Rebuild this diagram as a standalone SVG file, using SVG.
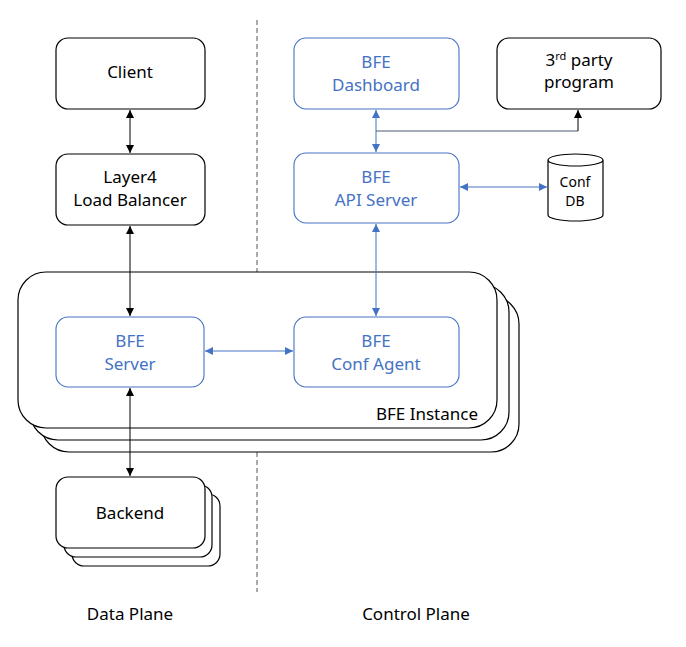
<svg xmlns="http://www.w3.org/2000/svg" width="686" height="647" viewBox="0 0 686 647">
<style>
text{font-family:"Noto Sans","Liberation Sans",sans-serif;font-size:17px;text-anchor:middle}
.bk{fill:#fff;stroke:#000;stroke-width:1.2}
.bl{fill:#fff;stroke:#4472c4;stroke-width:1.1}
.bt{fill:#4472c4}
.kt{fill:#000}
.cb{stroke:#000;stroke-width:1;fill:none}
.cl{stroke:#4472c4;stroke-width:1;fill:none}
</style>
<defs>
<marker id="ak" viewBox="0 0 10 10" refX="10" refY="5" markerWidth="8" markerHeight="8" markerUnits="userSpaceOnUse" orient="auto-start-reverse"><path d="M0,0L10,5L0,10z" fill="#000"/></marker>
<marker id="ab" viewBox="0 0 10 10" refX="10" refY="5" markerWidth="8" markerHeight="8" markerUnits="userSpaceOnUse" orient="auto-start-reverse"><path d="M0,0L10,5L0,10z" fill="#4472c4"/></marker>
</defs>
<rect width="686" height="647" fill="#fff"/>
<line x1="257" y1="20" x2="257" y2="592" stroke="#555" stroke-width="1" stroke-dasharray="5,3"/>
<g id="bfe-instance">
<rect class="bk" x="41" y="296" width="478" height="156" rx="28"/>
<rect class="bk" x="30" y="284" width="479" height="156" rx="28"/>
<rect class="bk" x="18" y="272" width="479" height="156" rx="28"/>
<text x="478" y="420" style="text-anchor:end" class="kt">BFE Instance</text>
</g>
<g id="client"><rect class="bk" x="56" y="38" width="149" height="71" rx="12"/><text x="130" y="78" class="kt">Client</text></g>
<g id="layer4"><rect class="bk" x="56" y="154" width="149" height="71" rx="12"/><text x="130" y="183" class="kt">Layer4</text><text x="130" y="206" class="kt">Load Balancer</text></g>
<g id="bfe-server"><rect class="bl" x="56" y="317" width="148" height="70" rx="12"/><text x="130" y="347" class="bt">BFE</text><text x="130" y="370" class="bt">Server</text></g>
<g id="conf-agent"><rect class="bl" x="294" y="317" width="165" height="70" rx="12"/><text x="376" y="347" class="bt">BFE</text><text x="376" y="370" class="bt">Conf Agent</text></g>
<g id="dashboard"><rect class="bl" x="294" y="38" width="165" height="71" rx="12"/><text x="376" y="68" class="bt">BFE</text><text x="376" y="91" class="bt">Dashboard</text></g>
<g id="third-party"><rect class="bk" x="497" y="38" width="164" height="71" rx="12"/><text x="579" y="66" class="kt">3<tspan font-size="11" dy="-6">rd</tspan><tspan dy="6"> party</tspan></text><text x="579" y="88" class="kt">program</text></g>
<g id="api-server"><rect class="bl" x="294" y="153" width="165" height="70" rx="12"/><text x="376" y="183" class="bt">BFE</text><text x="376" y="206" class="bt">API Server</text></g>
<g id="conf-db">
<path class="bk" d="M548,160 L548,215 A27.5,6 0 0 0 603,215 L603,160 A27.5,6 0 0 0 548,160 A27.5,6 0 0 0 603,160"/>
<text x="575" y="187" class="kt" style="font-size:14px">Conf</text><text x="575" y="206" class="kt" style="font-size:14px">DB</text>
</g>
<g id="backend">
<rect class="bk" x="72" y="494" width="148" height="72" rx="12"/>
<rect class="bk" x="64" y="485" width="148" height="72" rx="12"/>
<rect class="bk" x="56" y="477" width="149" height="71" rx="12"/>
<text x="130" y="519" class="kt">Backend</text>
</g>
<g id="connectors">
<line class="cb" x1="130" y1="110" x2="130" y2="153" marker-start="url(#ak)" marker-end="url(#ak)"/>
<line class="cb" x1="130" y1="226" x2="130" y2="316" marker-start="url(#ak)" marker-end="url(#ak)"/>
<line class="cb" x1="130" y1="388" x2="130" y2="476" marker-start="url(#ak)" marker-end="url(#ak)"/>
<line class="cl" x1="205" y1="351" x2="293" y2="351" marker-start="url(#ab)" marker-end="url(#ab)"/>
<line class="cl" x1="376" y1="224" x2="376" y2="316" marker-start="url(#ab)" marker-end="url(#ab)"/>
<line class="cl" x1="376" y1="110" x2="376" y2="152" marker-start="url(#ab)" marker-end="url(#ab)"/>
<line class="cl" x1="460" y1="187" x2="547" y2="187" marker-start="url(#ab)" marker-end="url(#ab)"/>
<path d="M376,131 L578,131" stroke="#4a5a75" stroke-width="1" fill="none"/>
<path class="cb" d="M578,131 L578,110" marker-end="url(#ak)"/>
</g>
<text x="130" y="620" class="kt">Data Plane</text>
<text x="416" y="620" class="kt">Control Plane</text>
</svg>
